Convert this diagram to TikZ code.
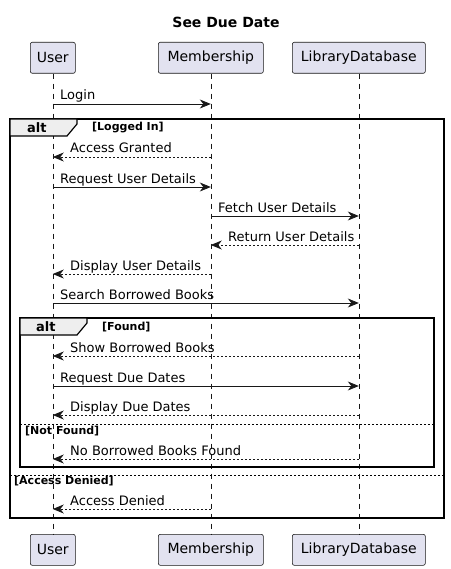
\documentclass[tikz,border=0pt]{standalone}
\usepackage{fontspec}
\setmainfont{DejaVu Sans}
\usetikzlibrary{arrows.meta}
\definecolor{partfill}{HTML}{E2E2F0}
\definecolor{partline}{HTML}{181818}
\definecolor{tabfill}{HTML}{EEEEEE}
\tikzset{
  part/.style={draw=partline, fill=partfill, rounded corners=2pt, line width=0.6pt, minimum height=31pt, inner sep=0pt, font=\fontsize{14}{16}\selectfont, anchor=north west},
  life/.style={draw=partline, line width=0.6pt, dash pattern=on 5pt off 5pt},
  msg/.style={draw=partline, line width=0.8pt, -{Stealth[length=11pt,width=9pt,inset=3.5pt]}},
  reply/.style={msg, dash pattern=on 2pt off 2pt},
  lbl/.style={anchor=base west, inner sep=0pt, font=\fontsize{13}{15}\selectfont},
  frame/.style={draw=black, line width=1.5pt},
  tab/.style={draw=black, fill=tabfill, line width=1.2pt},
  tabtext/.style={anchor=base west, inner sep=0pt, font=\bfseries\fontsize{13}{15}\selectfont},
  guard/.style={anchor=base west, inner sep=0pt, font=\bfseries\fontsize{11}{13}\selectfont},
  sep/.style={draw=black, line width=0.6pt, dash pattern=on 2pt off 2pt},
}
\begin{document}
\begin{tikzpicture}[x=1pt,y=-1pt]
\useasboundingbox (0,0) rectangle (450,569);
\node[anchor=base, inner sep=0pt, font=\bfseries\fontsize{14}{16}\selectfont] (title) at (226,28) {See Due Date};
% participants
\node[part, minimum width=45pt] (u) at (30,42) {User};
\node[part, minimum width=105pt] (m) at (158,42) {Membership};
\node[part, minimum width=133pt] (d) at (292,42) {LibraryDatabase};
\node[part, minimum width=45pt] (ub) at (30,534) {User};
\node[part, minimum width=105pt] (mb) at (158,534) {Membership};
\node[part, minimum width=133pt] (db) at (292,534) {LibraryDatabase};
\draw[life] (u.south) -- (ub.north);
\draw[life] (m.south) -- (mb.north);
\draw[life] (d.south) -- (db.north);
% outer alt frame
\draw[frame] (10,119) rectangle (444,518);
\draw[tab] (10,119) -- (77,119) -- (77,124) -- (67,136) -- (10,136) -- cycle;
\node[tabtext] (alt1) at (27,132.5) {alt};
\node[guard] (g1) at (92,131) {[Logged In]};
\draw[sep] (10,475) -- (444,475);
\node[guard] (g3) at (14,484) {[Access Denied]};
% inner alt frame
\draw[frame] (20,318) rectangle (434,467);
\draw[tab] (20,318) -- (87,318) -- (87,323) -- (77,335) -- (20,335) -- cycle;
\node[tabtext] (alt2) at (36,331.5) {alt};
\node[guard] (g2) at (102,330) {[Found]};
\draw[sep] (20,424) -- (434,424);
\node[guard] (g2b) at (25,434) {[Not Found]};
% messages
\draw[msg] (u.south |- 0,104) -- (m.south |- 0,104);
\node[lbl] (l1) at (60,100) {Login};
\draw[reply] (m.south |- 0,157) -- (u.south |- 0,157);
\node[lbl] (l2) at (70,153) {Access Granted};
\draw[msg] (u.south |- 0,187) -- (m.south |- 0,187);
\node[lbl] (l3) at (60,183) {Request User Details};
\draw[msg] (m.south |- 0,216) -- (d.south |- 0,216);
\node[lbl] (l4) at (218,212) {Fetch User Details};
\draw[reply] (d.south |- 0,245) -- (m.south |- 0,245);
\node[lbl] (l5) at (228,241) {Return User Details};
\draw[reply] (m.south |- 0,274) -- (u.south |- 0,274);
\node[lbl] (l6) at (70,270) {Display User Details};
\draw[msg] (u.south |- 0,303) -- (d.south |- 0,303);
\node[lbl] (l7) at (60,299) {Search Borrowed Books};
\draw[reply] (d.south |- 0,356) -- (u.south |- 0,356);
\node[lbl] (l8) at (70,352) {Show Borrowed Books};
\draw[msg] (u.south |- 0,386) -- (d.south |- 0,386);
\node[lbl] (l9) at (60,382) {Request Due Dates};
\draw[reply] (d.south |- 0,415) -- (u.south |- 0,415);
\node[lbl] (l10) at (70,411) {Display Due Dates};
\draw[reply] (d.south |- 0,459) -- (u.south |- 0,459);
\node[lbl] (l11) at (70,455) {No Borrowed Books Found};
\draw[reply] (m.south |- 0,509) -- (u.south |- 0,509);
\node[lbl] (l12) at (70,505) {Access Denied};
\end{tikzpicture}
\end{document}
